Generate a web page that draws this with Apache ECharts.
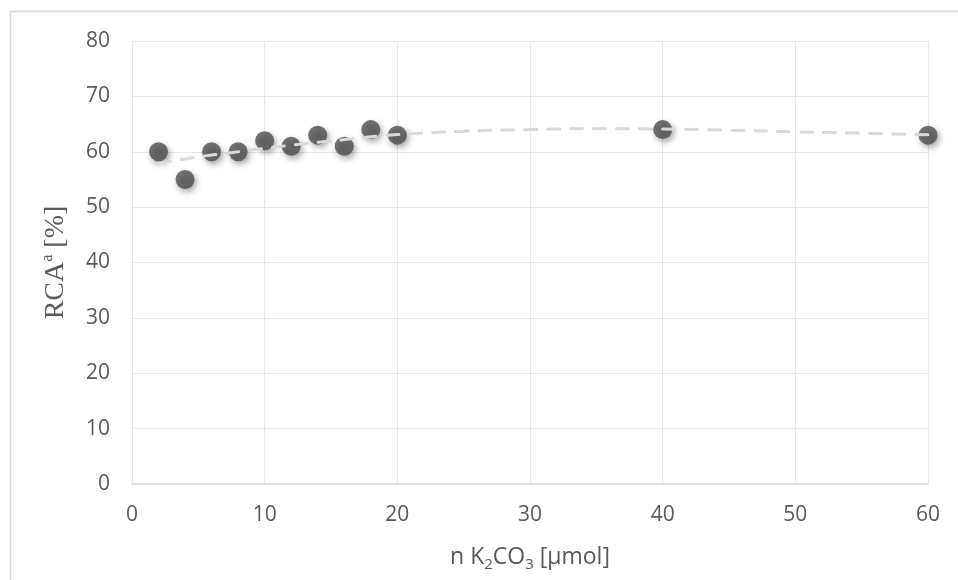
<!DOCTYPE html>
<html>
<head>
<meta charset="utf-8">
<script src="https://cdn.jsdelivr.net/npm/echarts@6/dist/echarts.min.js"></script>
<style>html,body{margin:0;padding:0;background:#fff;}#c{width:958px;height:580px;}</style>
</head>
<body>
<div id="c"></div>
<script>
// Measured data: n K2CO3 [µmol] vs RCA [%]
const xValues = [2, 4, 6, 8, 10, 12, 14, 16, 18, 20, 40, 60];
const yValues = [60, 55, 60, 60, 62, 61, 63, 61, 64, 63, 64, 63];
// Trendline
const trendX = [2, 4, 6, 8, 10, 12, 14, 16, 18, 20, 25, 30, 35, 40, 45, 50, 55, 60];
const trendY = [57.9, 58.7, 59.4, 60.0, 60.6, 61.2, 61.7, 62.2, 62.7, 63.1, 63.7, 64.0, 64.15, 64.1, 63.9, 63.6, 63.35, 63.05];
const xTicks = [0, 10, 20, 30, 40, 50, 60];
const yTicks = [0, 10, 20, 30, 40, 50, 60, 70, 80];

const chart = echarts.init(document.getElementById('c'), null, {renderer: 'canvas'});
const tickFont = {color: '#595959', fontSize: 21, fontFamily: 'Open Sans'};
chart.setOption({
  animation: false,
  graphic: [{
    type: 'rect', silent: true, z: -10,
    shape: {x: 10.5, y: 11.5, width: 1200, height: 1000},
    style: {fill: 'none', stroke: '#d9d9d9', lineWidth: 1.5}
  }],
  grid: {left: 132, right: 30, top: 41, bottom: 96, containLabel: false},
  xAxis: {
    type: 'value', min: xTicks[0], max: xTicks[xTicks.length - 1], interval: 10,
    axisLine: {show: true, lineStyle: {color: '#d9d9d9', width: 1.5}},
    axisTick: {show: false},
    splitLine: {show: true, lineStyle: {color: '#e8e8e8', width: 1}},
    axisLabel: Object.assign({margin: 21}, tickFont),
    name: '{t|n K}{s|2}{t|CO}{s|3}{t| [µmol]}',
    nameLocation: 'middle', nameGap: 58,
    nameTextStyle: {
      rich: {
        t: {fontSize: 23, color: '#595959', fontFamily: 'Open Sans', lineHeight: 30},
        s: {fontSize: 15, color: '#595959', fontFamily: 'Open Sans', lineHeight: 16, verticalAlign: 'bottom'}
      }
    }
  },
  yAxis: {
    type: 'value', min: yTicks[0], max: yTicks[yTicks.length - 1], interval: 10,
    axisLine: {show: false},
    axisTick: {show: false},
    splitLine: {show: true, lineStyle: {color: '#e8e8e8', width: 1}},
    axisLabel: Object.assign({margin: 22}, tickFont),
    name: '{t|RCA}{s|a}{t| [%]}',
    nameLocation: 'middle', nameGap: 60, nameRotate: 90,
    nameTextStyle: {
      rich: {
        t: {fontSize: 28, color: '#595959', fontFamily: 'Liberation Serif', lineHeight: 32},
        s: {fontSize: 16, color: '#595959', fontFamily: 'Liberation Serif', lineHeight: 17, verticalAlign: 'top'}
      }
    }
  },
  series: [
    {
      type: 'scatter', z: 2,
      data: xValues.map((x, i) => [x, yValues[i]]),
      symbol: 'circle', symbolSize: 19,
      itemStyle: {color: '#4f4f4f', shadowBlur: 6, shadowColor: 'rgba(0,0,0,0.45)', shadowOffsetX: 2, shadowOffsetY: 3}
    },
    {
      type: 'line', z: 3, smooth: true, symbol: 'none',
      data: trendX.map((x, i) => [x, trendY[i]]),
      lineStyle: {color: '#d9d9d9', width: 3, type: [12, 11], cap: 'round'}
    }
  ]
});
</script>
</body>
</html>
